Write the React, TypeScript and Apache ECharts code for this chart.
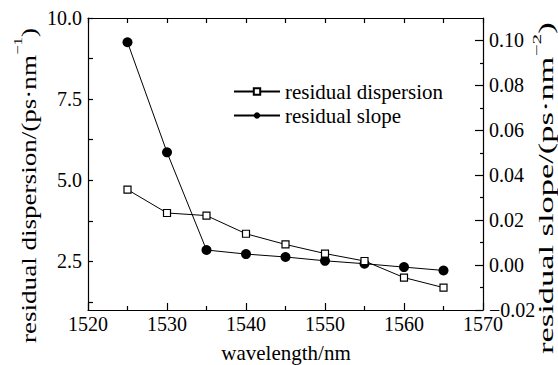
import React, { useEffect, useRef } from "react";
import * as echarts from "echarts";

const wavelengths = [1525, 1530, 1535, 1540, 1545, 1550, 1555, 1560, 1565];
const residualDispersion = [4.71, 3.99, 3.91, 3.35, 3.02, 2.74, 2.51, 2.0, 1.69];
const residualSlope = [0.0992, 0.0502, 0.0067, 0.0049, 0.0036, 0.0019, 0.0006, -0.0009, -0.0024];
const leftTicks = [2.5, 5.0, 7.5, 10.0];
const leftMinorTicks = [1.25, 3.75, 6.25, 8.75];
const rightTicks = [-0.02, 0.0, 0.02, 0.04, 0.06, 0.08, 0.1];
const rightMinorTicks = [-0.01, 0.01, 0.03, 0.05, 0.07, 0.09];

const FONT = "Liberation Serif";

export default function App() {
  const ref = useRef<HTMLDivElement>(null);
  useEffect(() => {
    if (!ref.current) return;
    const chart = echarts.init(ref.current, null, { renderer: "svg" });
    const axisLine = { show: true, onZero: false, lineStyle: { color: "#000", width: 1.2 } };
    const noLine = { show: false, onZero: false };
    chart.setOption({
      animation: false,
      backgroundColor: "#fff",
      textStyle: { fontFamily: FONT, color: "#000" },
      grid: { left: 88, right: 75, top: 18, bottom: 55, containLabel: false },
      legend: {
        left: 228,
        top: 76,
        orient: "vertical",
        itemWidth: 46,
        itemHeight: 8,
        itemGap: 3,
        textStyle: { fontFamily: FONT, fontSize: 21, color: "#000" },
        data: ["residual dispersion", "residual slope"],
      },
      xAxis: [
        {
          type: "value",
          position: "bottom",
          min: 1520,
          max: 1570,
          interval: 10,
          axisLine,
          axisTick: { show: true, inside: true, length: 7, lineStyle: { color: "#000", width: 1.2 } },
          minorTick: { show: true, splitNumber: 2, length: 4, lineStyle: { color: "#000", width: 1.2 } },
          axisLabel: { fontFamily: FONT, fontSize: 20, color: "#000", margin: 4, formatter: (v: number) => String(v) },
          splitLine: { show: false },
        },
        {
          type: "value",
          position: "top",
          min: 1520,
          max: 1570,
          interval: 5,
          axisLine,
          axisTick: { show: true, inside: true, length: 5, lineStyle: { color: "#000", width: 1.2 } },
          axisLabel: { show: false },
          splitLine: { show: false },
        },
      ],
      yAxis: [
        {
          type: "value",
          position: "left",
          min: 1,
          max: 10,
          axisLine,
          axisTick: { show: true, inside: true, length: 5, customValues: leftTicks, lineStyle: { color: "#000", width: 1.2 } },
          axisLabel: {
            fontFamily: FONT,
            fontSize: 20,
            color: "#000",
            margin: 6,
            customValues: leftTicks,
            formatter: (v: number) => v.toFixed(1),
          },
          splitLine: { show: false },
        },
        {
          type: "value",
          position: "right",
          min: -0.02,
          max: 0.11,
          axisLine,
          axisTick: { show: true, inside: true, length: 8, customValues: rightTicks, lineStyle: { color: "#000", width: 1.2 } },
          axisLabel: {
            fontFamily: FONT,
            fontSize: 20,
            color: "#000",
            margin: 6,
            customValues: rightTicks,
            formatter: (v: number) => v.toFixed(2).replace("-", "\u2212"),
          },
          splitLine: { show: false },
        },
        {
          type: "value",
          position: "left",
          min: 1,
          max: 10,
          axisLine: noLine,
          axisTick: { show: true, inside: true, length: 5, customValues: leftMinorTicks, lineStyle: { color: "#000", width: 1.2 } },
          axisLabel: { show: false },
          splitLine: { show: false },
        },
        {
          type: "value",
          position: "right",
          min: -0.02,
          max: 0.11,
          axisLine: noLine,
          axisTick: { show: true, inside: true, length: 3, customValues: rightMinorTicks, lineStyle: { color: "#000", width: 1.2 } },
          axisLabel: { show: false },
          splitLine: { show: false },
        },
      ],
      series: [
        {
          name: "residual dispersion",
          type: "line",
          xAxisIndex: 0,
          yAxisIndex: 0,
          data: wavelengths.map((w, i) => [w, residualDispersion[i]]),
          symbol: "rect",
          symbolSize: 7,
          showAllSymbol: true,
          lineStyle: { color: "#000", width: 1 },
          itemStyle: { color: "#fff", borderColor: "#000", borderWidth: 1.2 },
          z: 3,
        },
        {
          name: "residual slope",
          type: "line",
          xAxisIndex: 0,
          yAxisIndex: 1,
          data: wavelengths.map((w, i) => [w, residualSlope[i]]),
          symbol: "circle",
          symbolSize: 10,
          showAllSymbol: true,
          lineStyle: { color: "#000", width: 1 },
          itemStyle: { color: "#000", borderColor: "#000", borderWidth: 0 },
          z: 2,
        },
      ],
      graphic: [
        {
          type: "text",
          x: 25,
          y: 343,
          rotation: Math.PI / 2,
          scaleX: 1.29,
          style: {
            text: "{a|residual dispersion/(ps·nm}{s|\u22121}{a|)}",
            align: "left",
            verticalAlign: "middle",
            rich: {
              a: { fontFamily: FONT, fontSize: 21, color: "#000", lineHeight: 28, verticalAlign: "bottom" },
              s: { fontFamily: FONT, fontSize: 13, color: "#000", lineHeight: 28, verticalAlign: "top" },
            },
          },
        },
        {
          type: "text",
          x: 543,
          y: 354,
          rotation: Math.PI / 2,
          scaleX: 1.64,
          style: {
            text: "{a|residual slope/(ps·nm}{s|\u22122}{a|)}",
            align: "left",
            verticalAlign: "middle",
            rich: {
              a: { fontFamily: FONT, fontSize: 21, color: "#000", lineHeight: 26, verticalAlign: "bottom" },
              s: { fontFamily: FONT, fontSize: 13, color: "#000", lineHeight: 26, verticalAlign: "top" },
            },
          },
        },
        {
          type: "text",
          x: 286,
          y: 353,
          style: {
            text: "wavelength/nm",
            fontFamily: FONT,
            fontSize: 21,
            fill: "#000",
            align: "center",
            verticalAlign: "middle",
          },
        },
      ],
    });
    return () => chart.dispose();
  }, []);
  return <div ref={ref} style={{ width: 558, height: 365, position: "absolute", left: 0, top: 0 }} />;
}
